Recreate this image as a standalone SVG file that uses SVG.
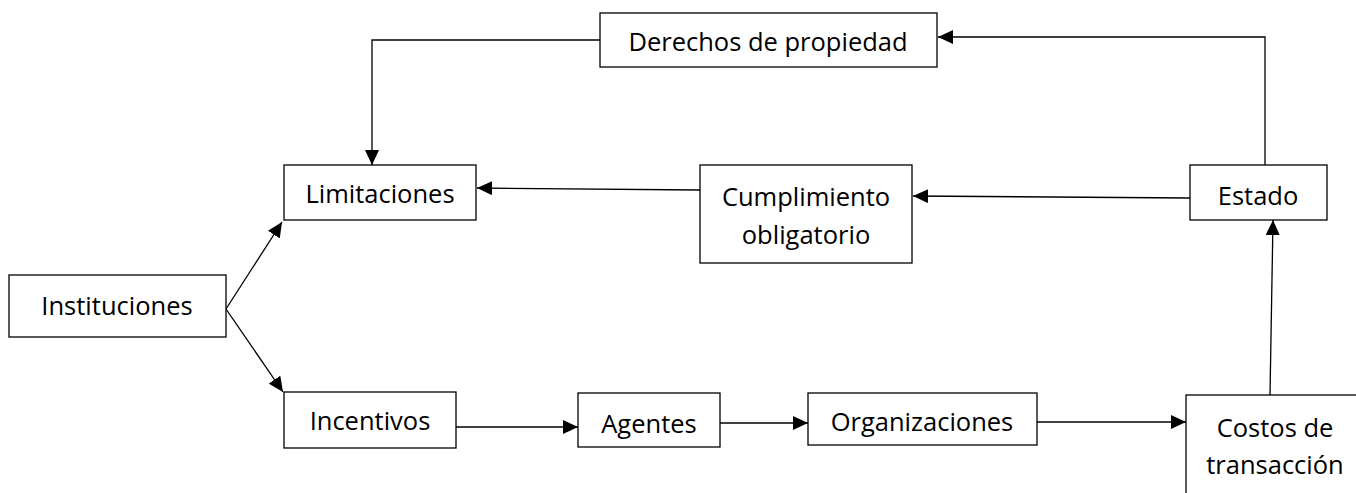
<svg xmlns="http://www.w3.org/2000/svg" width="1356" height="493" viewBox="0 0 1356 493">
<style>
.box{fill:#fff;stroke:#000;stroke-width:1.3}
.t{font-family:"Open Sans","Noto Sans",sans-serif;font-size:25.5px;fill:#000;text-anchor:middle;dominant-baseline:central}
.c{fill:none;stroke:#000;stroke-width:1.3}
</style>
<defs>
<marker id="ah" markerUnits="userSpaceOnUse" markerWidth="16" markerHeight="14" refX="15" refY="7" orient="auto">
<path d="M0,0 L15,7 L0,14 Z" fill="#000"/>
</marker>
</defs>
<rect width="1356" height="493" fill="#fff"/>
<g id="connectors">
<path class="c" d="M600,40 H372 V165" marker-end="url(#ah)"/>
<path class="c" d="M1265,165 V37 H938" marker-end="url(#ah)"/>
<path class="c" d="M1190,198 L913,196" marker-end="url(#ah)"/>
<path class="c" d="M700,190 L477,188" marker-end="url(#ah)"/>
<path class="c" d="M226,309 L282,222" marker-end="url(#ah)"/>
<path class="c" d="M226,309 L283,392" marker-end="url(#ah)"/>
<path class="c" d="M456,427 H578" marker-end="url(#ah)"/>
<path class="c" d="M720,423 H808" marker-end="url(#ah)"/>
<path class="c" d="M1037,422 H1186" marker-end="url(#ah)"/>
<path class="c" d="M1270,395 L1273,220" marker-end="url(#ah)"/>
</g>
<g id="derechos"><rect class="box" x="600" y="13" width="337" height="54"/><text class="t" x="768" y="41">Derechos de propiedad</text></g>
<g id="limitaciones"><rect class="box" x="284" y="165" width="192" height="55"/><text class="t" x="380" y="193">Limitaciones</text></g>
<g id="cumplimiento"><rect class="box" x="700" y="165" width="212" height="98"/><text class="t" x="806" y="196">Cumplimiento</text><text class="t" x="806" y="234">obligatorio</text></g>
<g id="estado"><rect class="box" x="1190" y="165" width="137" height="55"/><text class="t" x="1258" y="195">Estado</text></g>
<g id="instituciones"><rect class="box" x="9" y="275" width="217" height="62"/><text class="t" x="117" y="305">Instituciones</text></g>
<g id="incentivos"><rect class="box" x="284" y="392" width="172" height="56"/><text class="t" x="370" y="420">Incentivos</text></g>
<g id="agentes"><rect class="box" x="578" y="393" width="142" height="54"/><text class="t" x="649" y="423">Agentes</text></g>
<g id="organizaciones"><rect class="box" x="808" y="393" width="229" height="52"/><text class="t" x="922" y="421">Organizaciones</text></g>
<g id="costos"><rect class="box" x="1186" y="395" width="200" height="120"/><text class="t" x="1275" y="427">Costos de</text><text class="t" x="1275" y="464">transacción</text></g>
</svg>
